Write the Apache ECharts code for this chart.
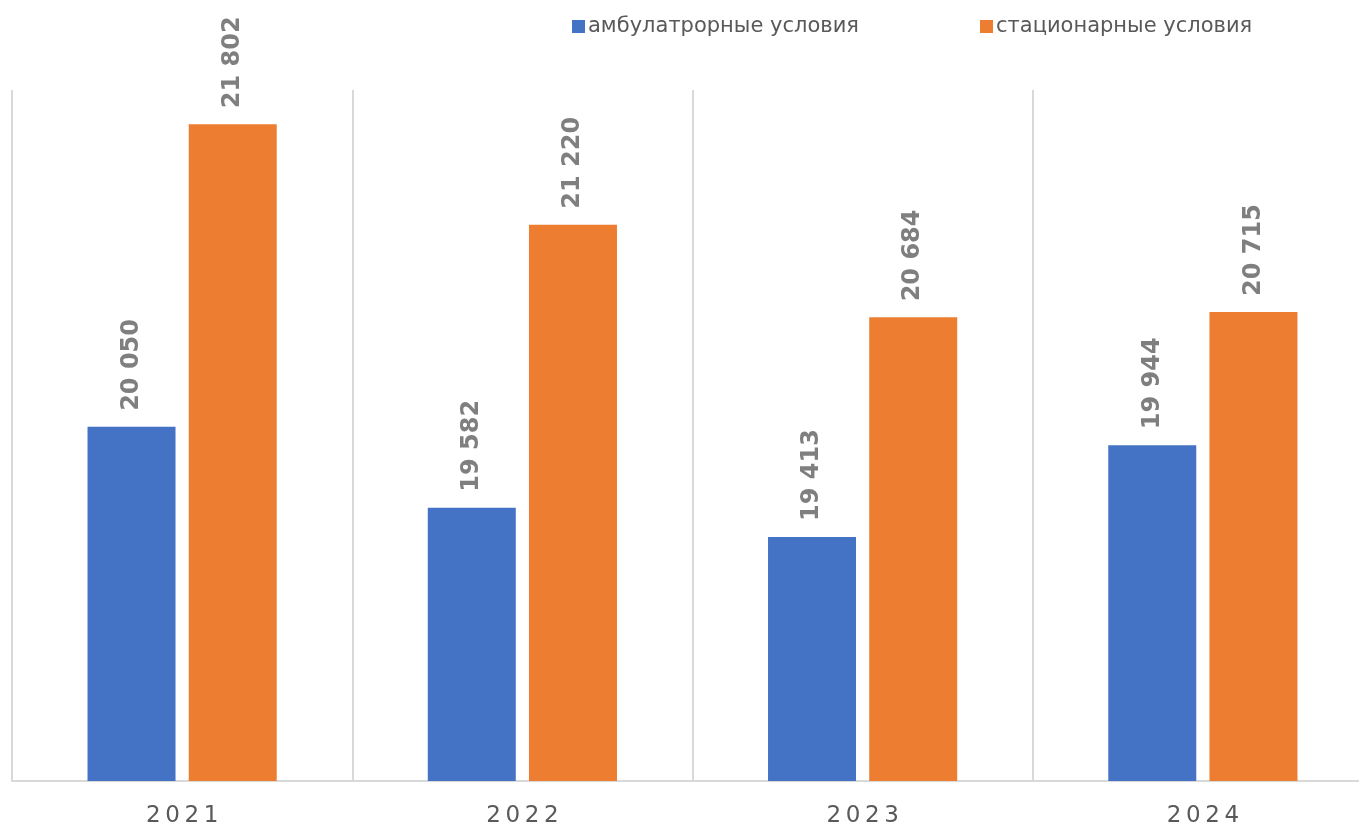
<!DOCTYPE html>
<html>
<head>
<meta charset="utf-8">
<script src="https://cdn.jsdelivr.net/npm/echarts@6/dist/echarts.min.js"></script>
<style>html,body{margin:0;padding:0;background:#fff}#c{width:1359px;height:828px}</style>
</head>
<body>
<div id="c"></div>
<script>
const categories = ['2021', '2022', '2023', '2024'];
const seriesNames = ['амбулатрорные условия', 'стационарные условия'];
const ambulatory = [20050, 19582, 19413, 19944];
const inpatient = [21802, 21220, 20684, 20715];

const chart = echarts.init(document.getElementById('c'));
const fmt = p => String(p.value).replace(/\B(?=(\d{3})+(?!\d))/g, ' ');
const labelCfg = {
  show: true, position: 'top', rotate: 90, distance: 16,
  align: 'left', verticalAlign: 'middle',
  formatter: fmt, color: '#7f7f7f', fontSize: 24, fontWeight: 'bold',
  fontFamily: 'DejaVu Sans'
};
const legendText = { color: '#595959', fontSize: 21, fontFamily: 'DejaVu Sans', padding: [0,0,0,-2] };
chart.setOption({
  animation: false,
  legend: [
    { top: 11, left: 567, itemWidth: 13, itemHeight: 13, icon: 'rect', textStyle: legendText, data: [seriesNames[0]] },
    { top: 11, left: 975, itemWidth: 13, itemHeight: 13, icon: 'rect', textStyle: legendText, data: [seriesNames[1]] }
  ],
  grid: { left: 12, width: 1361, top: 90, bottom: 47, containLabel: false, outerBoundsMode: 'none' },
  xAxis: {
    type: 'category', data: categories,
    axisLine: { lineStyle: { color: '#d9d9d9', width: 2 } },
    axisTick: { show: false },
    splitLine: { show: true, lineStyle: { color: '#d9d9d9', width: 2 } },
    axisLabel: { color: '#595959', fontSize: 23, fontFamily: 'DejaVu Sans', margin: 24,
      formatter: v => v.split('').join('\u2009') }
  },
  yAxis: { type: 'value', min: 18000, max: 22000, show: false, splitLine: { show: false } },
  series: [
    { name: seriesNames[0], type: 'bar', data: ambulatory, barWidth: 88, barGap: '15%',
      itemStyle: { color: '#4472c4' }, label: labelCfg },
    { name: seriesNames[1], type: 'bar', data: inpatient, barWidth: 88,
      itemStyle: { color: '#ed7d31' }, label: labelCfg }
  ]
});
</script>
</body>
</html>
